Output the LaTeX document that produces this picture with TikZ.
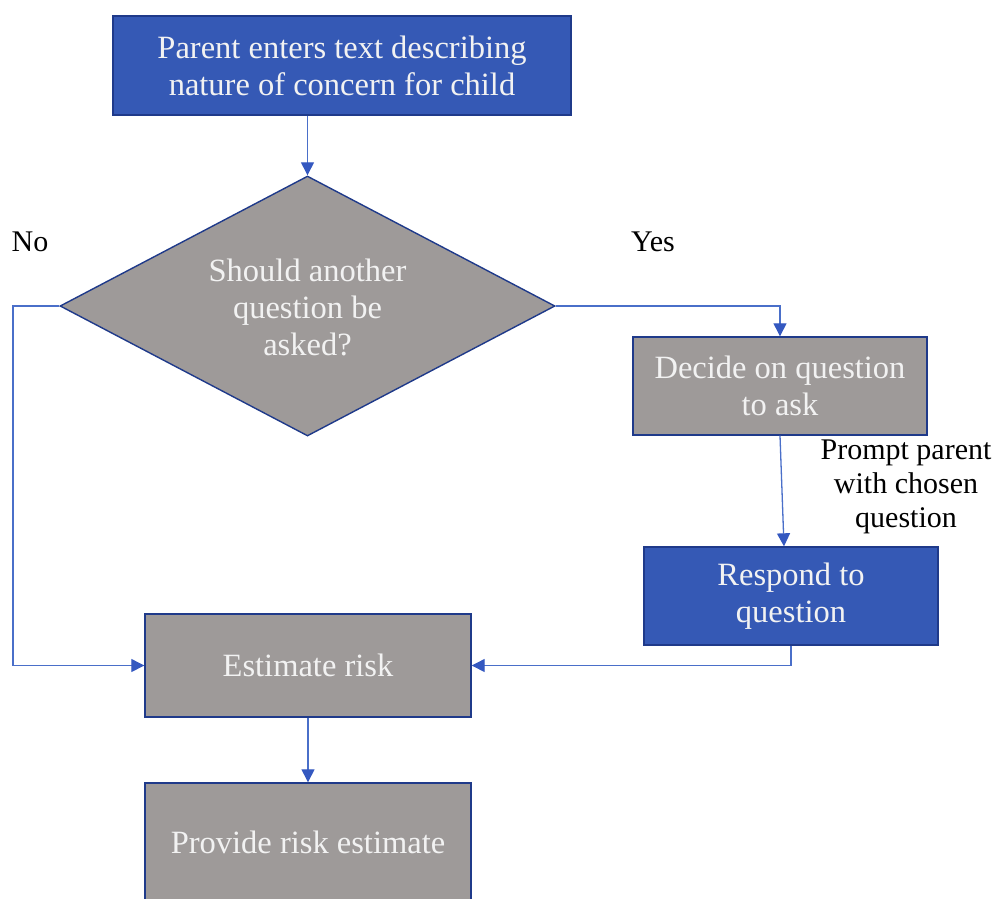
\documentclass[tikz,border=0pt]{standalone}
\usepackage{fontspec}
\setmainfont{Liberation Serif}
\usetikzlibrary{arrows.meta,shapes.geometric,calc}
\definecolor{boxblue}{HTML}{3559B5}
\definecolor{boxgray}{HTML}{9E9A99}
\definecolor{edge}{HTML}{1F3A8A}
\definecolor{linkblue}{HTML}{4A6FC9}
\definecolor{tipblue}{HTML}{3458C0}
\definecolor{lighttext}{HTML}{F2F2F2}
\tikzset{
  flowbox/.style={draw=edge, line width=1.4pt, text=lighttext, align=center, inner sep=0pt,
    font=\fontsize{32.5}{37}\selectfont},
  bluebox/.style={flowbox, fill=boxblue},
  graybox/.style={flowbox, fill=boxgray},
  link/.style={draw=linkblue, line width=1.3pt, -{Triangle[length=13pt,width=13pt,fill=tipblue,color=tipblue]}},
  lbl/.style={text=black, align=center, inner sep=0pt, font=\fontsize{30}{34}\selectfont}
}
\begin{document}
\begin{tikzpicture}[x=1pt,y=-1pt]
\useasboundingbox (0,0) rectangle (998,898);
\clip (0,0) rectangle (998,898);
\node[bluebox, minimum width=458pt, minimum height=99pt] (top) at (342,65.5) {Parent enters text describing\\nature of concern for child};
\node[graybox, diamond, aspect=1.9, minimum width=495pt, minimum height=260pt] (dec) at (307.5,306) {};
\node[text=lighttext, align=center, inner sep=0pt, font=\fontsize{32.5}{37}\selectfont] (dectext) at (307.5,307) {Should another\\question be\\asked?};
\node[graybox, minimum width=294pt, minimum height=98pt] (decide) at (780,386) {Decide on question\\to ask};
\node[bluebox, minimum width=294pt, minimum height=98pt] (respond) at (791,596) {Respond to\\question};
\node[graybox, minimum width=326pt, minimum height=103pt] (estimate) at (308,665.5) {Estimate risk};
\node[graybox, minimum width=326pt, minimum height=125pt, text height=22pt, text depth=7pt] (provide) at (308,845.5) {Provide risk estimate};
\node[lbl] (no) at (30,242) {No};
\node[lbl] (yes) at (653,242) {Yes};
\node[lbl] (prompt) at (906,487) {Prompt parent\\with chosen\\question};
\coordinate (lcorner) at (13,305);
\draw[link] (dec.north |- top.south) -- (dec.north);
\draw[link] (dec.east) -| (decide.north);
\draw[link] (decide.south) -- ($(respond.north)+(-7,0)$);
\draw[link] (respond.south) |- (estimate.east);
\draw[link] (dec.west) -- (dec.west -| lcorner) |- (estimate.west);
\draw[link] (estimate.south) -- (provide.north);
\end{tikzpicture}
\end{document}
